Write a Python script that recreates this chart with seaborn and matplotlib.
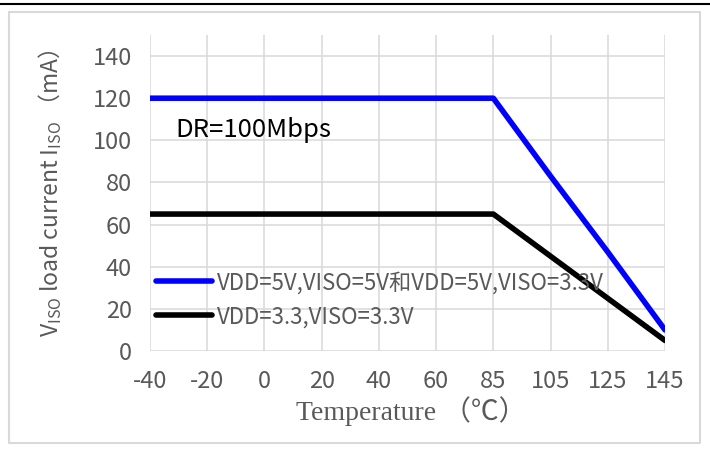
import numpy as np
import pandas as pd
import matplotlib
matplotlib.use("Agg")
import matplotlib.pyplot as plt
import seaborn as sns
from matplotlib.lines import Line2D
from matplotlib.patches import Rectangle

# ---- data ----
temps = ["-40", "-20", "0", "20", "40", "60", "85", "105", "125", "145"]
series_names = ["VDD=5V,VISO=5V和VDD=5V,VISO=3.3V", "VDD=3.3,VISO=3.3V"]
blue_vals = [120, 120, 120, 120, 120, 120, 120, 83, 47, 10]
black_vals = [65, 65, 65, 65, 65, 65, 65, 45, 25, 5]
y_ticks = [0, 20, 40, 60, 80, 100, 120, 140]

sns.set_theme(style="white")
plt.rcParams["font.family"] = ["Noto Sans CJK SC", "DejaVu Sans"]
plt.rcParams["mathtext.fontset"] = "custom"
plt.rcParams["mathtext.rm"] = "Noto Sans CJK SC"
plt.rcParams["mathtext.it"] = "Noto Sans CJK SC"
plt.rcParams["mathtext.bf"] = "Noto Sans CJK SC"

pos = list(range(len(temps)))
df = pd.DataFrame({
    "pos": pos * 2,
    "val": blue_vals + black_vals,
    "series": [series_names[0]] * len(temps) + [series_names[1]] * len(temps),
})

fig = plt.figure(figsize=(7.1, 4.51), dpi=100)
ax = fig.add_axes([150 / 710, 1 - 351 / 451, 515 / 710, 316 / 451])

gray = "#595959"
grid_c = "#d9d9d9"

sns.lineplot(data=df, x="pos", y="val", hue="series",
             palette=["#0000ff", "#000000"], linewidth=4, ax=ax,
             legend=False, zorder=3)

ax.set_xlim(0, len(temps) - 1)
ax.set_ylim(0, 150)
ax.set_xticks(pos)
ax.set_xticklabels(temps)
ax.set_yticks(y_ticks)
ax.grid(True, color=grid_c, linewidth=1.1)
ax.set_axisbelow(True)
for s in ax.spines.values():
    s.set_visible(False)
ax.tick_params(axis="both", length=0, labelsize=17, colors=gray)
ax.tick_params(axis="y", pad=13)
ax.tick_params(axis="x", pad=14)

ax.set_xlabel("Temperature （℃）", family=["Liberation Serif", "Noto Sans CJK SC"],
              fontsize=20, color=gray, labelpad=2)
ax.xaxis.label.set_x((411 - 150) / 515)
ax.set_ylabel(r"$\mathrm{V_{ISO}}$ load current $\mathrm{I_{ISO}}$ （mA）",
              fontsize=16.5, color=gray, labelpad=21)

ax.text(0.44, 101.5, "DR=100Mbps", fontsize=18.5, color="black", va="baseline", ha="left")

handles = [Line2D([], [], color="#0000ff", lw=4, solid_capstyle="round"),
           Line2D([], [], color="#000000", lw=4, solid_capstyle="round")]
fig.legend(handles, series_names, loc="upper left",
           bbox_to_anchor=(145 / 710, 1 - 260 / 451), frameon=False,
           fontsize=16, labelcolor=gray, handlelength=2.5, handletextpad=0.25,
           borderpad=0, labelspacing=0.5)

# outer frame and top separator line
fig.patches.append(Rectangle((9 / 710, 1 - 443 / 451), 691 / 710, 431 / 451,
                             transform=fig.transFigure, fill=False,
                             edgecolor=grid_c, linewidth=1.5))
fig.add_artist(Line2D([0, 1], [1 - 4 / 451, 1 - 4 / 451], transform=fig.transFigure,
                      color="black", linewidth=1.5))

fig.savefig("out.png", dpi=100)
